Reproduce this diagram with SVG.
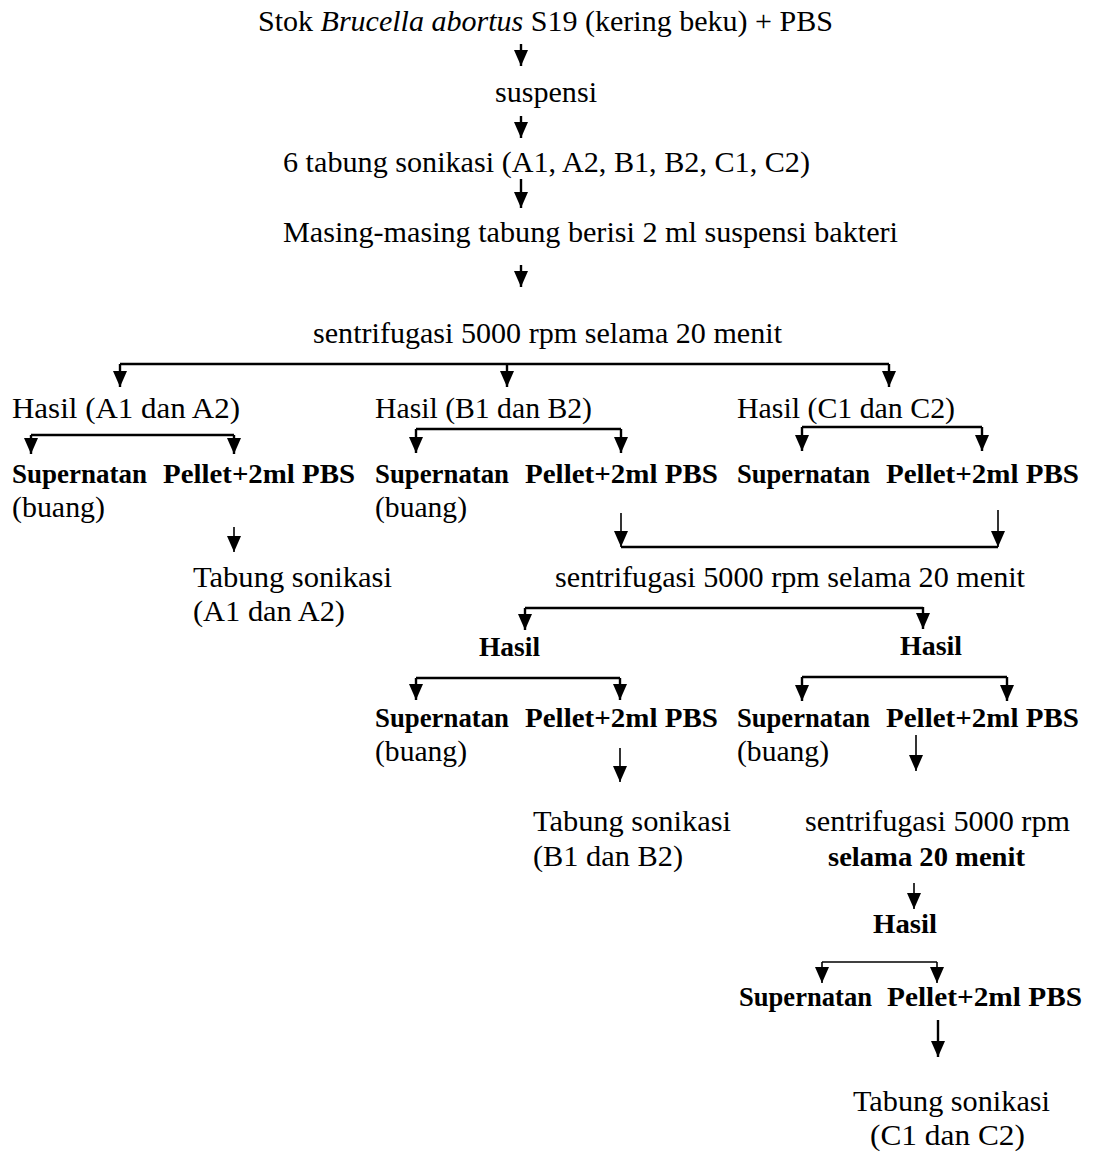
<svg xmlns="http://www.w3.org/2000/svg" width="1097" height="1152" viewBox="0 0 1097 1152">
<style>
text{font-family:"Liberation Serif","Times New Roman",serif;fill:#000}
.r{font-size:30px}
.b{font-size:28px;font-weight:bold}
.c{stroke:#000;stroke-width:2.4;fill:none}
.t{stroke:#000;stroke-width:1.6;fill:none}
.a{marker-end:url(#ah)}
</style>
<defs>
<marker id="ah" viewBox="0 0 16 14" refX="16" refY="7" markerWidth="16" markerHeight="14" markerUnits="userSpaceOnUse" orient="auto">
<path d="M0,0 L16,7 L0,14 z" fill="#000"/>
</marker>
</defs>
<rect width="1097" height="1152" fill="#fff"/>
<g id="connectors">
<path class="c a" d="M521,44 V66"/>
<path class="c a" d="M521,116 V138"/>
<path class="c a" d="M521,179 V208"/>
<path class="c a" d="M521,265 V287"/>
<path class="c" d="M120,364 H889"/>
<path class="c a" d="M120,364 V387"/>
<path class="c a" d="M507,364 V387"/>
<path class="c a" d="M889,364 V387"/>
<path class="c" d="M31,435 H234"/>
<path class="c a" d="M31,435 V454"/>
<path class="c a" d="M234,435 V454"/>
<path class="c" d="M416,429 H621"/>
<path class="c a" d="M416,429 V453"/>
<path class="c a" d="M621,429 V453"/>
<path class="c" d="M802,427 H982"/>
<path class="c a" d="M802,427 V451"/>
<path class="c a" d="M982,427 V451"/>
<path class="t a" d="M234,527 V552"/>
<path class="t a" d="M621,513 V547"/>
<path class="t a" d="M998,510 V547"/>
<path class="c" d="M621,547 H998"/>
<path class="c" d="M525,608 H923"/>
<path class="c a" d="M525,608 V630"/>
<path class="c a" d="M923,607 V629"/>
<path class="c" d="M416,678 H620"/>
<path class="c a" d="M416,678 V700"/>
<path class="c a" d="M620,678 V700"/>
<path class="c" d="M802,677 H1007"/>
<path class="c a" d="M802,677 V701"/>
<path class="c a" d="M1007,677 V701"/>
<path class="t a" d="M620,748 V782"/>
<path class="t a" d="M916,735 V771"/>
<path class="t a" d="M914,883 V909"/>
<path class="t" d="M822,962 H937"/>
<path class="t a" d="M822,962 V983"/>
<path class="t a" d="M937,962 V983"/>
<path class="c a" d="M938,1020 V1057"/>
</g>
<g id="n-stok"><text class="r" x="258" y="31" textLength="575" lengthAdjust="spacingAndGlyphs">Stok <tspan font-style="italic">Brucella abortus</tspan> S19 (kering beku) + PBS</text></g>
<g id="n-suspensi"><text class="r" x="495" y="102" textLength="102" lengthAdjust="spacingAndGlyphs">suspensi</text></g>
<g id="n-6tabung"><text class="r" x="283" y="172" textLength="527" lengthAdjust="spacingAndGlyphs">6 tabung sonikasi (A1, A2, B1, B2, C1, C2)</text></g>
<g id="n-masing"><text class="r" x="283" y="242" textLength="615" lengthAdjust="spacingAndGlyphs">Masing-masing tabung berisi 2 ml suspensi bakteri</text></g>
<g id="n-sentri1"><text class="r" x="313" y="343" textLength="469" lengthAdjust="spacingAndGlyphs">sentrifugasi 5000 rpm selama 20 menit</text></g>
<g id="n-hasilA"><text class="r" x="12" y="418" textLength="228" lengthAdjust="spacingAndGlyphs">Hasil (A1 dan  A2)</text></g>
<g id="n-hasilB"><text class="r" x="375" y="418" textLength="217" lengthAdjust="spacingAndGlyphs">Hasil (B1 dan B2)</text></g>
<g id="n-hasilC"><text class="r" x="737" y="418" textLength="218" lengthAdjust="spacingAndGlyphs">Hasil (C1 dan C2)</text></g>
<g id="n-supA"><text class="b" x="12" y="483" textLength="135" lengthAdjust="spacingAndGlyphs">Supernatan</text><text class="r" x="12" y="517" textLength="93" lengthAdjust="spacingAndGlyphs">(buang)</text></g>
<g id="n-pelA"><text class="b" x="163" y="483" textLength="192" lengthAdjust="spacingAndGlyphs">Pellet+2ml PBS</text></g>
<g id="n-supB"><text class="b" x="375" y="483" textLength="134" lengthAdjust="spacingAndGlyphs">Supernatan</text><text class="r" x="375" y="517" textLength="92" lengthAdjust="spacingAndGlyphs">(buang)</text></g>
<g id="n-pelB"><text class="b" x="525" y="483" textLength="193" lengthAdjust="spacingAndGlyphs">Pellet+2ml PBS</text></g>
<g id="n-supC"><text class="b" x="737" y="483" textLength="133" lengthAdjust="spacingAndGlyphs">Supernatan</text></g>
<g id="n-pelC"><text class="b" x="886" y="483" textLength="193" lengthAdjust="spacingAndGlyphs">Pellet+2ml PBS</text></g>
<g id="n-tabA"><text class="r" x="193" y="587" textLength="199" lengthAdjust="spacingAndGlyphs">Tabung sonikasi</text><text class="r" x="193" y="621" textLength="152" lengthAdjust="spacingAndGlyphs">(A1 dan A2)</text></g>
<g id="n-sentri2"><text class="r" x="555" y="587" textLength="470" lengthAdjust="spacingAndGlyphs">sentrifugasi 5000 rpm selama 20 menit</text></g>
<g id="n-hasil2L"><text class="b" x="479" y="656" textLength="61" lengthAdjust="spacingAndGlyphs">Hasil</text></g>
<g id="n-hasil2R"><text class="b" x="900" y="655" textLength="62" lengthAdjust="spacingAndGlyphs">Hasil</text></g>
<g id="n-supB2"><text class="b" x="375" y="727" textLength="134" lengthAdjust="spacingAndGlyphs">Supernatan</text><text class="r" x="375" y="761" textLength="92" lengthAdjust="spacingAndGlyphs">(buang)</text></g>
<g id="n-pelB2"><text class="b" x="525" y="727" textLength="193" lengthAdjust="spacingAndGlyphs">Pellet+2ml PBS</text></g>
<g id="n-supC2"><text class="b" x="737" y="727" textLength="133" lengthAdjust="spacingAndGlyphs">Supernatan</text><text class="r" x="737" y="761" textLength="92" lengthAdjust="spacingAndGlyphs">(buang)</text></g>
<g id="n-pelC2"><text class="b" x="886" y="727" textLength="193" lengthAdjust="spacingAndGlyphs">Pellet+2ml PBS</text></g>
<g id="n-tabB"><text class="r" x="533" y="831" textLength="198" lengthAdjust="spacingAndGlyphs">Tabung sonikasi</text><text class="r" x="533" y="866" textLength="150" lengthAdjust="spacingAndGlyphs">(B1 dan B2)</text></g>
<g id="n-sentri3"><text class="r" x="805" y="831" textLength="265" lengthAdjust="spacingAndGlyphs">sentrifugasi 5000 rpm</text><text class="b" x="828" y="866" textLength="197" lengthAdjust="spacingAndGlyphs">selama 20 menit</text></g>
<g id="n-hasil3"><text class="b" x="873" y="933" textLength="64" lengthAdjust="spacingAndGlyphs">Hasil</text></g>
<g id="n-supC3"><text class="b" x="739" y="1006" textLength="133" lengthAdjust="spacingAndGlyphs">Supernatan</text></g>
<g id="n-pelC3"><text class="b" x="887" y="1006" textLength="195" lengthAdjust="spacingAndGlyphs">Pellet+2ml PBS</text></g>
<g id="n-tabC"><text class="r" x="853" y="1111" textLength="197" lengthAdjust="spacingAndGlyphs">Tabung sonikasi</text><text class="r" x="870" y="1145" textLength="155" lengthAdjust="spacingAndGlyphs">(C1 dan C2)</text></g>
</svg>
